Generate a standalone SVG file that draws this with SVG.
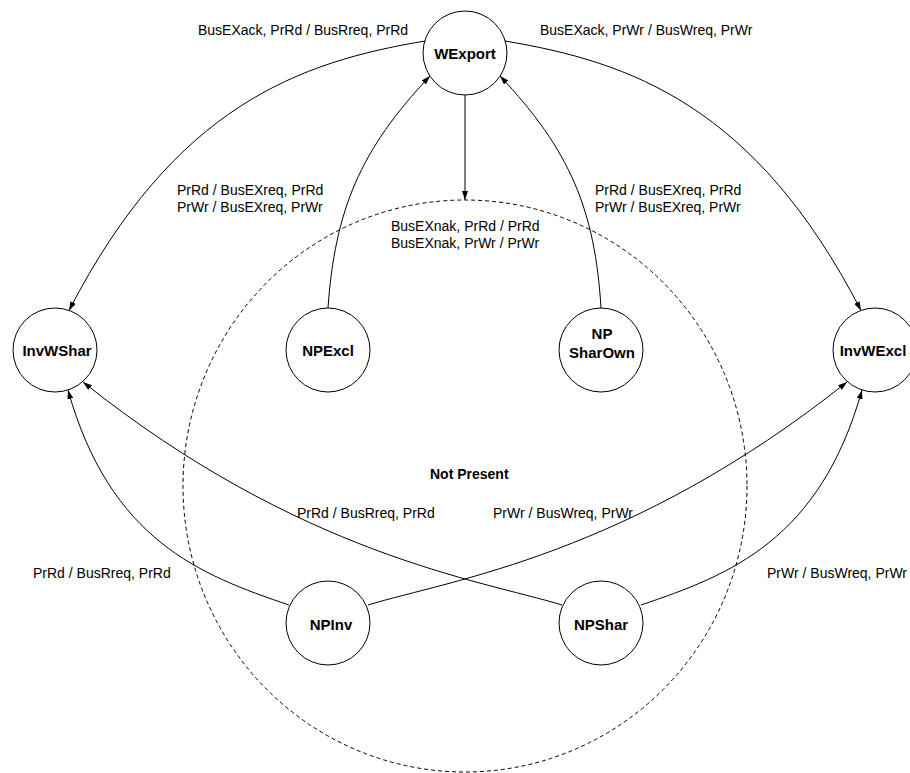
<svg xmlns="http://www.w3.org/2000/svg" width="910" height="773" viewBox="0 0 910 773">
<style>
  .node circle { fill: #ffffff; stroke: #000000; stroke-width: 1; }
  .node text { font-family: "Liberation Sans", Arial, sans-serif; font-size: 15px; font-weight: bold; fill: #000000; text-anchor: middle; }
  .edge { fill: none; stroke: #000000; stroke-width: 1; }
  .lbl { font-family: "Liberation Sans", Arial, sans-serif; font-size: 14px; fill: #000000; }
  .region { fill: none; stroke: #000000; stroke-width: 1; stroke-dasharray: 4 3; }
  .rlbl { font-family: "Liberation Sans", Arial, sans-serif; font-size: 14px; font-weight: bold; fill: #000000; }
</style>
<defs>
  <marker id="arrow" viewBox="0 0 9 6" refX="9" refY="3" markerWidth="9" markerHeight="6" markerUnits="userSpaceOnUse" orient="auto">
    <path d="M0,0 L9,3 L0,6 z" fill="#000000"/>
  </marker>
</defs>
<rect x="0" y="0" width="910" height="773" fill="#ffffff"/>

<g id="region-not-present">
  <ellipse class="region" cx="465" cy="486" rx="282" ry="286"/>
  <text class="rlbl" x="430" y="479">Not Present</text>
</g>

<g id="connectors">
  <path class="edge" d="M425,41 C300,62 175,105 69,310.5" marker-end="url(#arrow)"/>
  <path class="edge" d="M505,41 C630,62 755,105 861,310.5" marker-end="url(#arrow)"/>
  <path class="edge" d="M328,308 C335,210 360,150 430,76" marker-end="url(#arrow)"/>
  <path class="edge" d="M601,308 C595,210 570,150 500,76" marker-end="url(#arrow)"/>
  <path class="edge" d="M465,95 L465,200" marker-end="url(#arrow)"/>
  <path class="edge" d="M289,605 C200,575 110,540 68,390" marker-end="url(#arrow)"/>
  <path class="edge" d="M562,605 C480,580 300,555 83,382" marker-end="url(#arrow)"/>
  <path class="edge" d="M368,605 C450,580 630,555 847,382" marker-end="url(#arrow)"/>
  <path class="edge" d="M641,605 C730,575 820,540 862,390" marker-end="url(#arrow)"/>
</g>

<g id="edge-labels">
  <text class="lbl" x="198" y="35">BusEXack, PrRd / BusRreq, PrRd</text>
  <text class="lbl" x="540" y="35">BusEXack, PrWr / BusWreq, PrWr</text>
  <text class="lbl" x="177" y="195">PrRd / BusEXreq, PrRd</text>
  <text class="lbl" x="177" y="212">PrWr / BusEXreq, PrWr</text>
  <text class="lbl" x="391" y="231">BusEXnak, PrRd / PrRd</text>
  <text class="lbl" x="391" y="248">BusEXnak, PrWr / PrWr</text>
  <text class="lbl" x="595" y="195">PrRd / BusEXreq, PrRd</text>
  <text class="lbl" x="595" y="212">PrWr / BusEXreq, PrWr</text>
  <text class="lbl" x="297" y="517.5">PrRd / BusRreq, PrRd</text>
  <text class="lbl" x="493" y="517.5">PrWr / BusWreq, PrWr</text>
  <text class="lbl" x="33" y="578">PrRd / BusRreq, PrRd</text>
  <text class="lbl" x="767" y="578">PrWr / BusWreq, PrWr</text>
</g>

<g id="node-WExport" class="node">
  <circle cx="465" cy="53" r="42"/>
  <text x="465" y="59">WExport</text>
</g>
<g id="node-InvWShar" class="node">
  <circle cx="55" cy="350" r="42"/>
  <text x="57" y="355.5">InvWShar</text>
</g>
<g id="node-NPExcl" class="node">
  <circle cx="328" cy="350" r="42"/>
  <text x="328" y="355.5">NPExcl</text>
</g>
<g id="node-NPSharOwn" class="node">
  <circle cx="601" cy="350" r="42"/>
  <text x="602" y="338.5">NP</text>
  <text x="602" y="357.5">SharOwn</text>
</g>
<g id="node-InvWExcl" class="node">
  <circle cx="875" cy="350" r="42"/>
  <text x="873" y="355.5">InvWExcl</text>
</g>
<g id="node-NPInv" class="node">
  <circle cx="328" cy="623" r="42"/>
  <text x="331" y="629.5">NPInv</text>
</g>
<g id="node-NPShar" class="node">
  <circle cx="601" cy="623" r="42"/>
  <text x="601" y="629.5">NPShar</text>
</g>
</svg>
